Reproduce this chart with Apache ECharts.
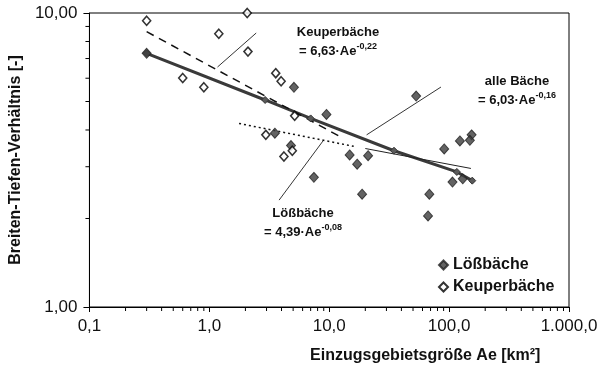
<!DOCTYPE html>
<html>
<head>
<meta charset="utf-8">
<script src="https://cdn.jsdelivr.net/npm/echarts@6/dist/echarts.min.js"></script>
<style>
  html, body { margin: 0; padding: 0; background: #fff; }
  #chart { width: 602px; height: 376px; }
</style>
</head>
<body>
<div id="chart"></div>
<script>
// Lößbäche (gefüllte Rauten)
var lossX = [0.3, 5.08, 9.48, 3.52, 4.8, 14.8, 7.45, 53.1, 154, 149, 123, 91, 17.1, 21.1, 18.8, 68.4, 66.7, 106.7, 130];
var lossY = [7.29, 5.59, 4.52, 3.90, 3.54, 3.29, 2.76, 5.22, 3.85, 3.69, 3.67, 3.45, 3.06, 3.27, 2.42, 2.42, 2.04, 2.66, 2.73];
// Keuperbäche (offene Rauten)
var keuperX = [0.3, 2.07, 1.2, 2.1, 0.6, 0.9, 3.58, 3.97, 2.96, 5.15, 4.92, 4.19];
var keuperY = [9.41, 10.0, 8.5, 7.39, 6.01, 5.59, 6.24, 5.86, 3.85, 4.47, 3.40, 3.25];
// Regressionslinien
var alleX = [0.3, 2.92, 7.0, 34.7, 116, 156];
var alleY = [7.29, 5.06, 4.38, 3.40, 2.88, 2.69];
var keuperFitX = [0.3, 12];
var keuperFitY = [8.64, 3.82];
var lossFitDotX = [1.77, 16];
var lossFitDotY = [4.21, 3.52];
var lossFitSolidX = [20, 152];
var lossFitSolidY = [3.46, 2.96];
// Hinweislinien der Beschriftungen
var keuperLeadX = [2.46, 1.17];
var keuperLeadY = [8.55, 6.55];
var alleLeadX = [85.5, 20.5];
var alleLeadY = [5.6, 3.85];
var lossLeadX = [3.82, 9.0];
var lossLeadY = [2.31, 3.70];
// Achsenbeschriftungen
var xTicks = [0.1, 1, 10, 100, 1000];
var xTickLabels = ['0,1', '1,0', '10,0', '100,0', '1.000,0'];
var yTicks = [1, 10];
var yTickLabels = ['1,00', '10,00'];

function pairs(xs, ys) {
  return xs.map(function (x, i) { return [x, ys[i]] })
}
function pickLabel(ticks, labels, v) {
  for (var i = 0; i < ticks.length; i++) {
    if (Math.abs(Math.log10(ticks[i]) - Math.log10(v)) < 1e-6) return labels[i]
  }
  return ''
}

var font = 'Liberation Sans, Arial, sans-serif'
var chart = echarts.init(document.getElementById('chart'))

var leadStyle = { color: '#000', width: 0.8 }

var option = {
  animation: false,
  textStyle: { fontFamily: font },
  grid: {
    left: 86, right: 33, top: 13, bottom: 69,
    show: true, borderColor: '#000', borderWidth: 1
  },
  legend: {
    orient: 'vertical',
    left: 433, top: 252,
    itemWidth: 9, itemHeight: 9, itemGap: 6,
    data: ['Lößbäche', 'Keuperbäche'],
    textStyle: { fontFamily: font, fontSize: 16, fontWeight: 'bold', color: '#111' }
  },
  xAxis: {
    type: 'log', logBase: 10, min: 0.1, max: 1000,
    name: 'Einzugsgebietsgröße Ae [km²]',
    nameLocation: 'middle', nameGap: 41,
    nameTextStyle: { fontFamily: font, fontSize: 16, fontWeight: 'bold', color: '#111', padding: [0, 0, 0, 192] },
    axisLine: { lineStyle: { color: '#000', width: 1 } },
    axisTick: { show: true, length: 5, lineStyle: { color: '#000' } },
    axisLabel: {
      fontFamily: font, fontSize: 17, color: '#111', margin: 11,
      formatter: function (v) { return pickLabel(xTicks, xTickLabels, v) }
    },
    splitLine: { show: false }
  },
  yAxis: {
    type: 'log', logBase: 10, min: 1, max: 10,
    name: 'Breiten-Tiefen-Verhältnis [-]',
    nameLocation: 'middle', nameGap: 62,
    nameTextStyle: { fontFamily: font, fontSize: 16, fontWeight: 'bold', color: '#111' },
    axisLine: { lineStyle: { color: '#000', width: 1 } },
    axisTick: { show: true, length: 6, lineStyle: { color: '#000' } },
    axisLabel: {
      fontFamily: font, fontSize: 17, color: '#111', margin: 12,
      formatter: function (v) { return pickLabel(yTicks, yTickLabels, v) }
    },
    splitLine: { show: false }
  },
  series: [
    {
      name: 'alle Bäche', type: 'line', data: pairs(alleX, alleY),
      symbol: 'diamond', symbolSize: 7, showSymbol: true,
      lineStyle: { color: '#3a3a3a', width: 3 },
      itemStyle: { color: '#5a5a5a', borderColor: '#333', borderWidth: 1 },
      z: 3
    },
    {
      name: 'Keuper-Regression', type: 'line', data: pairs(keuperFitX, keuperFitY),
      symbol: 'none',
      lineStyle: { color: '#111', width: 1.5, type: [8, 6] },
      z: 3
    },
    {
      name: 'Löß-Regression', type: 'line', data: pairs(lossFitDotX, lossFitDotY),
      symbol: 'none',
      lineStyle: { color: '#111', width: 1.5, type: [2, 3] },
      z: 3
    },
    {
      name: 'Löß-Regression 2', type: 'line', data: pairs(lossFitSolidX, lossFitSolidY),
      symbol: 'none',
      lineStyle: { color: '#222', width: 1 },
      z: 3
    },
    { type: 'line', data: pairs(keuperLeadX, keuperLeadY), symbol: 'none', lineStyle: leadStyle, silent: true },
    { type: 'line', data: pairs(alleLeadX, alleLeadY), symbol: 'none', lineStyle: leadStyle, silent: true },
    { type: 'line', data: pairs(lossLeadX, lossLeadY), symbol: 'none', lineStyle: leadStyle, silent: true },
    {
      name: 'Lößbäche', type: 'scatter', data: pairs(lossX, lossY),
      symbol: 'diamond', symbolSize: [9, 10], clip: false,
      itemStyle: { color: '#3c3c3c', borderColor: '#222', borderWidth: 1 },
      z: 4
    },
    {
      name: 'Keuperbäche', type: 'scatter', data: pairs(keuperX, keuperY),
      symbol: 'diamond', symbolSize: [8, 9], clip: false,
      itemStyle: { color: '#fff', borderColor: '#000', borderWidth: 1.6 },
      z: 5
    }
  ]
}
chart.setOption(option)

// Annotationen und Nebenmarkierungen der logarithmischen Achsen
function annotation(x, y, title, formula, exp) {
  return [
    {
      type: 'text', x: x, y: y, z: 10,
      style: { text: title, font: 'bold 13px ' + font, fill: '#111', align: 'center', verticalAlign: 'middle' }
    },
    {
      type: 'text', x: x, y: y + 19, z: 10,
      style: {
        text: '{b|' + formula + '}{s|' + exp + '}',
        align: 'center', verticalAlign: 'middle',
        rich: {
          b: { font: 'bold 13px ' + font, fill: '#111' },
          s: { font: 'bold 9px ' + font, fill: '#111', padding: [0, 0, 9, 0] }
        }
      }
    }
  ]
}

var elements = []
elements = elements.concat(annotation(338, 32, 'Keuperbäche', '= 6,63·Ae', '-0,22'))
elements = elements.concat(annotation(517, 81, 'alle Bäche', '= 6,03·Ae', '-0,16'))
elements = elements.concat(annotation(303, 213, 'Lößbäche', '= 4,39·Ae', '-0,08'))

var yBottom = chart.convertToPixel({ gridIndex: 0 }, [1, 1])[1]
var xLeft = chart.convertToPixel({ gridIndex: 0 }, [0.1, 1])[0]
for (var k = -1; k < 3; k++) {
  for (var m = 2; m < 10; m++) {
    var px = chart.convertToPixel({ gridIndex: 0 }, [m * Math.pow(10, k), 1])[0]
    elements.push({ type: 'line', shape: { x1: px, y1: yBottom, x2: px, y2: yBottom + 4 }, style: { stroke: '#000', lineWidth: 1 } })
  }
}
for (var n = 2; n < 10; n++) {
  var py = chart.convertToPixel({ gridIndex: 0 }, [1, n])[1]
  elements.push({ type: 'line', shape: { x1: xLeft - 4, y1: py, x2: xLeft, y2: py }, style: { stroke: '#000', lineWidth: 1 } })
}
chart.setOption({ graphic: { elements: elements } })
</script>
</body>
</html>
